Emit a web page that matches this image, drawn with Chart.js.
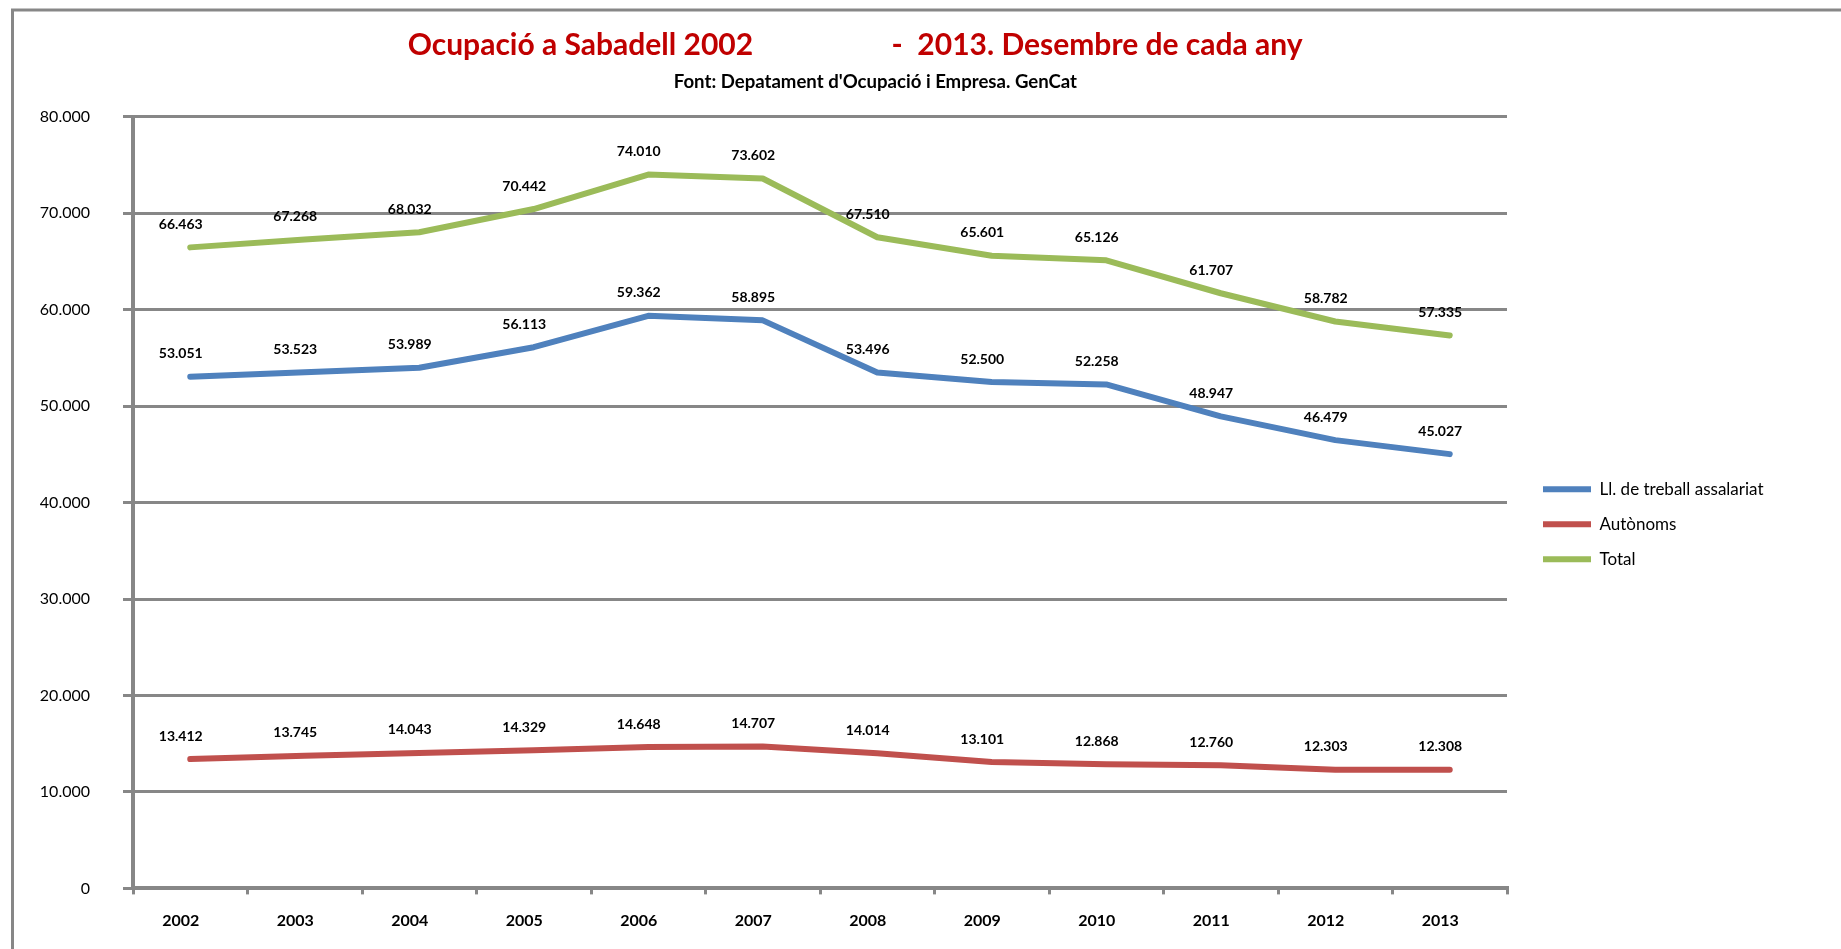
<!DOCTYPE html>
<html>
<head>
<meta charset="utf-8">
<script src="https://cdn.jsdelivr.net/npm/chart.js@4.4.1/dist/chart.umd.min.js"></script>
<style>
  html, body { margin: 0; padding: 0; background: #ffffff; overflow: hidden; }
  canvas { display: block; }
</style>
</head>
<body>
<canvas id="c" width="1841" height="949" style="width:1841px;height:949px"></canvas>
<script>
// ---- data ----
const categories = ['2002','2003','2004','2005','2006','2007','2008','2009','2010','2011','2012','2013'];
const assalariat = [53051, 53523, 53989, 56113, 59362, 58895, 53496, 52500, 52258, 48947, 46479, 45027];
const autonoms   = [13412, 13745, 14043, 14329, 14648, 14707, 14014, 13101, 12868, 12760, 12303, 12308];
const total      = [66463, 67268, 68032, 70442, 74010, 73602, 67510, 65601, 65126, 61707, 58782, 57335];
const seriesNames = ['Ll. de treball assalariat', 'Autònoms', 'Total'];
const titleLeft = 'Ocupació a Sabadell 2002';
const titleRight = '-  2013. Desembre de cada any';
const subtitleText = "Font: Depatament d'Ocupació i Empresa. GenCat";

const FONT = 'Lato';
const GRID = '#878787';

function fmt(n) {
  return String(Math.round(n)).replace(/\B(?=(\d{3})+(?!\d))/g, '.');
}

const frame = {
  id: 'frame',
  beforeDraw(chart) {
    const ctx = chart.ctx;
    ctx.save();
    ctx.fillStyle = '#ffffff';
    ctx.fillRect(0, 0, chart.width, chart.height);
    ctx.strokeStyle = GRID;
    ctx.lineWidth = 3;
    ctx.beginPath();
    ctx.moveTo(12.5, chart.height + 5);
    ctx.lineTo(12.5, 10);
    ctx.lineTo(chart.width + 5, 10);
    ctx.stroke();
    ctx.restore();
  }
};

const valueLabels = {
  id: 'valueLabels',
  afterDatasetsDraw(chart) {
    const ctx = chart.ctx;
    ctx.save();
    ctx.font = 'bold 14px ' + FONT;
    ctx.fillStyle = '#000000';
    ctx.textAlign = 'center';
    ctx.textBaseline = 'middle';
    chart.data.datasets.forEach((ds, i) => {
      const meta = chart.getDatasetMeta(i);
      meta.data.forEach((pt, j) => {
        ctx.fillText(fmt(ds.data[j]), pt.x - 9.5, pt.y - 23);
      });
    });
    ctx.restore();
  }
};

const lineStyle = {
  borderWidth: 6,
  pointRadius: 0,
  pointHoverRadius: 0,
  tension: 0,
  borderCapStyle: 'round',
  borderJoinStyle: 'round',
  fill: false
};

new Chart(document.getElementById('c'), {
  type: 'line',
  data: {
    labels: categories,
    datasets: [
      Object.assign({ label: seriesNames[0], data: assalariat, borderColor: '#4F81BD', backgroundColor: '#4F81BD' }, lineStyle),
      Object.assign({ label: seriesNames[1], data: autonoms, borderColor: '#C0504D', backgroundColor: '#C0504D' }, lineStyle),
      Object.assign({ label: seriesNames[2], data: total, borderColor: '#9BBB59', backgroundColor: '#9BBB59' }, lineStyle)
    ]
  },
  options: {
    responsive: false,
    animation: false,
    devicePixelRatio: 1,
    layout: { padding: { left: 40, right: 76, top: 0, bottom: 2.6 } },
    scales: {
      x: {
        type: 'category',
        offset: true,
        grid: { offset: true, drawOnChartArea: false, drawTicks: true, tickLength: 6, color: GRID, lineWidth: 3 },
        border: { display: true, color: GRID, width: 4 },
        ticks: { color: '#000', font: { family: FONT, size: 16, weight: 'bold' }, padding: 16.4, labelOffset: -9.5, maxRotation: 0, autoSkip: false }
      },
      y: {
        type: 'linear',
        position: 'left',
        min: 0,
        max: 80000,
        grid: { color: GRID, lineWidth: 3, drawTicks: true, tickLength: 10 },
        border: { display: true, color: GRID, width: 4 },
        ticks: { stepSize: 10000, color: '#000', font: { family: FONT, size: 16 }, padding: 33, callback: v => fmt(v) },
        afterFit(s) { s.width = 93; }
      },
      yGap: {
        type: 'linear',
        position: 'right',
        display: true,
        grid: { display: false },
        border: { display: false },
        ticks: { display: false },
        afterFit(s) { s.width = 18; }
      }
    },
    plugins: {
      title: {
        display: true,
        text: titleLeft + ' '.repeat(19) + titleRight + ' '.repeat(13),
        color: '#C00000',
        font: { family: FONT, size: 30, weight: 'bold' },
        padding: { top: 27, bottom: 0 }
      },
      subtitle: {
        display: true,
        text: subtitleText + ' '.repeat(12),
        color: '#000',
        font: { family: FONT, size: 18.6, weight: 'bold' },
        padding: { top: 7.8, bottom: 23.7 }
      },
      legend: {
        display: true,
        position: 'right',
        align: 'center',
        fullSize: false,
        maxWidth: 240,
        title: { display: true, text: '', font: { family: FONT, size: 12 }, padding: { top: 28.9, bottom: 0 } },
        labels: {
          color: '#000',
          font: { family: FONT, size: 17 },
          usePointStyle: true,
          pointStyle: 'line',
          pointStyleWidth: 48,
          padding: 18
        }
      },
      tooltip: { enabled: false }
    }
  },
  plugins: [frame, valueLabels]
});
</script>
</body>
</html>
